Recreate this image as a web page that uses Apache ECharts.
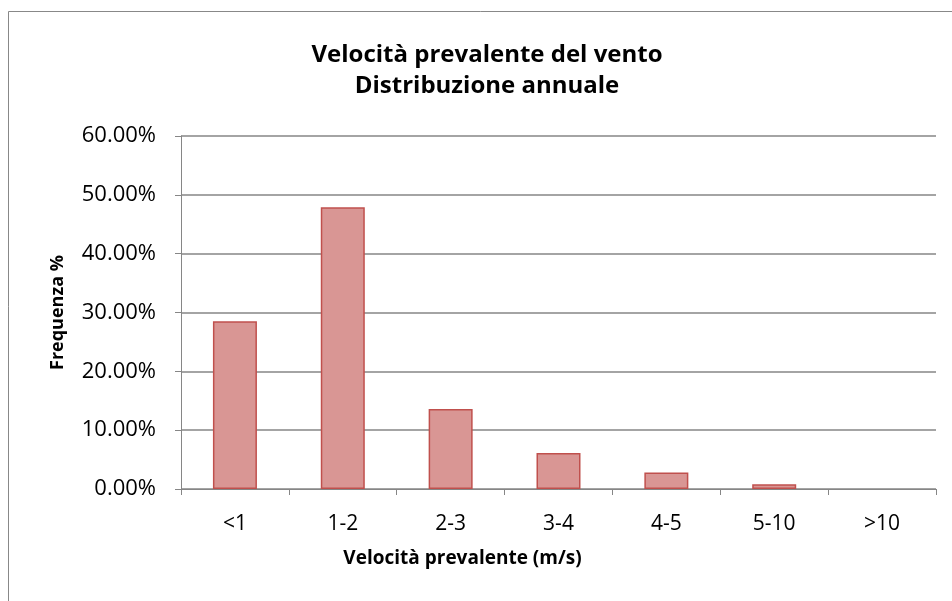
<!DOCTYPE html>
<html>
<head>
<meta charset="utf-8">
<script src="https://cdn.jsdelivr.net/npm/echarts@6/dist/echarts.min.js"></script>
<style>html,body{margin:0;padding:0;background:#fff}#c{width:952px;height:601px}</style>
</head>
<body>
<div id="c"></div>
<script>
const categories = ['<1', '1-2', '2-3', '3-4', '4-5', '5-10', '>10'];
const frequenza = [28.5, 47.9, 13.6, 6.1, 2.8, 0.8, 0];
const yTicks = [0, 10, 20, 30, 40, 50, 60];

const font = '"Open Sans", "Noto Sans", sans-serif';
const chart = echarts.init(document.getElementById('c'), null, {renderer: 'canvas'});
chart.setOption({
  backgroundColor: '#ffffff',
  animation: false,
  graphic: [{
    type: 'rect', shape: {x: 8.5, y: 11.5, width: 1000, height: 700},
    style: {fill: 'none', stroke: '#888888', lineWidth: 1}, silent: true
  }],
  title: {
    text: 'Velocità prevalente del vento\nDistribuzione annuale',
    left: 482, top: 35, textAlign: 'center',
    textStyle: {fontFamily: font, fontWeight: 'bold', fontSize: 24, lineHeight: 31, color: '#000'}
  },
  grid: {left: 181, right: 16, top: 136, bottom: 112, containLabel: false},
  xAxis: {
    type: 'category', data: categories,
    name: 'Velocità prevalente (m/s)', nameLocation: 'middle', nameGap: 60,
    nameTextStyle: {fontFamily: font, fontWeight: 'bold', fontSize: 19, color: '#000', padding: [0, 192, 0, 0]},
    axisLine: {lineStyle: {color: '#868686', width: 1}},
    axisTick: {show: true, alignWithLabel: false, length: 6, lineStyle: {color: '#868686'}},
    axisLabel: {fontFamily: font, fontSize: 21, color: '#000', margin: 25}
  },
  yAxis: {
    type: 'value', min: 0, max: 60, interval: 10,
    name: 'Frequenza %', nameLocation: 'middle', nameGap: 114,
    nameTextStyle: {fontFamily: font, fontWeight: 'bold', fontSize: 18, color: '#000'},
    axisLine: {show: true, lineStyle: {color: '#868686', width: 1}},
    axisTick: {show: true, length: 6, lineStyle: {color: '#868686'}},
    splitLine: {show: true, lineStyle: {color: '#868686', width: 1.5}},
    axisLabel: {fontFamily: font, fontSize: 22, color: '#000', margin: 25,
      formatter: v => yTicks.includes(v) ? v.toFixed(2) + '%' : ''}
  },
  series: [{
    type: 'bar', barWidth: 44,
    data: frequenza.map(v => v > 0 ? v : {value: v, itemStyle: {borderWidth: 0}}),
    itemStyle: {color: '#D99694', borderColor: '#C0504D', borderWidth: 1.5}
  }]
});
</script>
</body>
</html>
